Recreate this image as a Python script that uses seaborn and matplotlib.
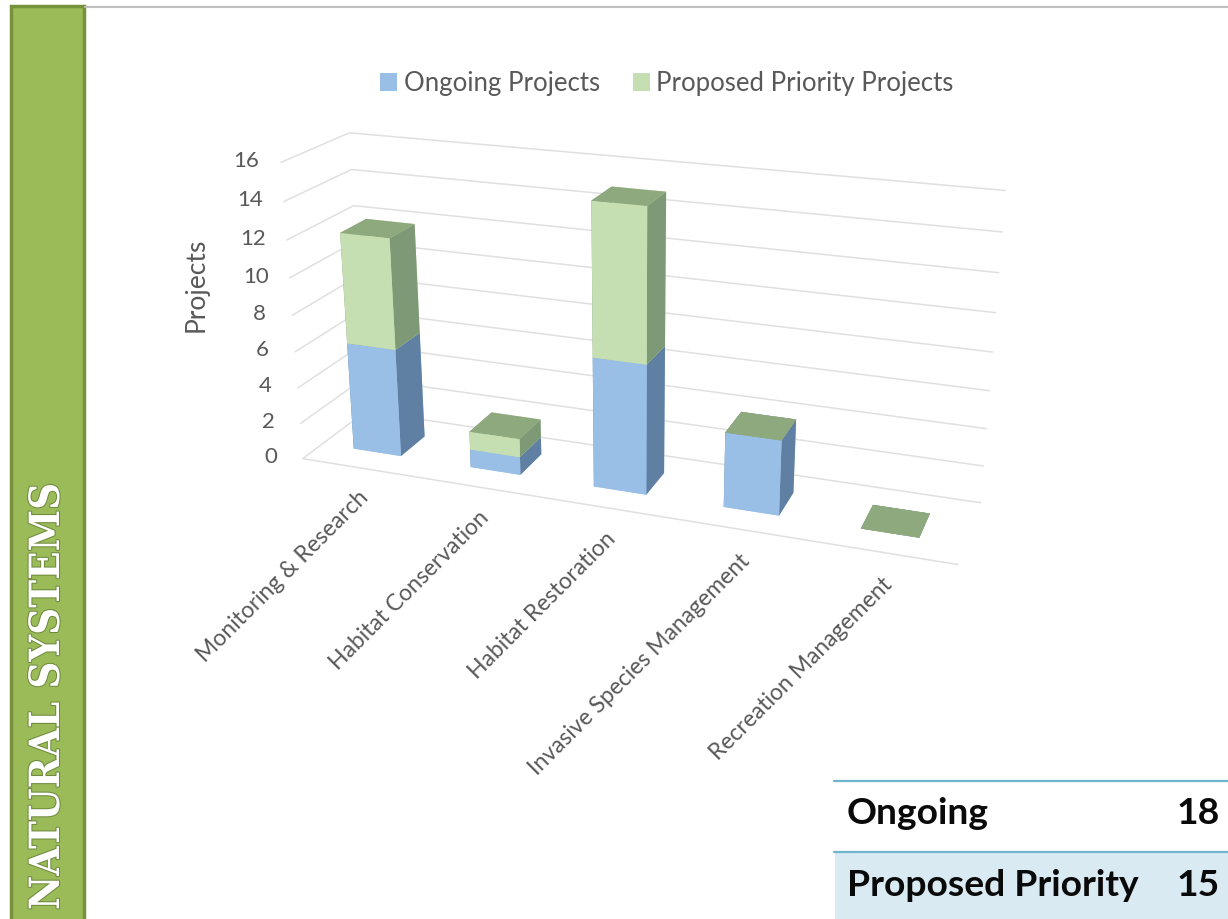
import numpy as np
import pandas as pd
import seaborn as sns
import matplotlib
matplotlib.use("Agg")
import matplotlib.pyplot as plt
from matplotlib.patches import Patch, Rectangle
import matplotlib.patheffects as pe

categories = ["Monitoring & Research", "Habitat Conservation", "Habitat Restoration",
              "Invasive Species Management", "Recreation Management"]
ongoing = [6, 1, 7, 4, 0]
proposed = [6, 1, 8, 0, 0]
z_ticks = [0, 2, 4, 6, 8, 10, 12, 14, 16]
series_names = ["Ongoing Projects", "Proposed Priority Projects"]
summary_labels = ["Ongoing", "Proposed Priority"]
summary_values = [18, 15]

sns.set_theme(style="white")
plt.rcParams["font.family"] = ["Lato", "DejaVu Sans"]
GREY = "#595959"
blue, blue_side, blue_top = "#9ABFE6", "#5F7FA3", "#8FA97F"
green, green_side, green_top = "#C5DFB3", "#7E9975", "#8FA97F"

df = pd.DataFrame({"category": categories, "ongoing": ongoing, "proposed": proposed})

fig = plt.figure(figsize=(12.28, 9.19), dpi=100, facecolor="white")

# page furniture in pixel coordinates
bg = fig.add_axes([0, 0, 1, 1], zorder=0)
bg.set_xlim(0, 1228)
bg.set_ylim(919, 0)
bg.axis("off")
bg.add_patch(Rectangle((11, 6), 73, 920, fc="#9BBB59", ec="#76923C", lw=2.5))
bg.plot([85, 1228], [7, 7], color="#BFBFBF", lw=1.5)
bg.text(47, 910, "NATURAL SYSTEMS", rotation=90, ha="center", va="bottom", color="white",
        family="DejaVu Serif", stretch="condensed", weight="bold", size=30,
        path_effects=[pe.withStroke(linewidth=1.5, foreground="#6E8B3D")])
bg.add_patch(Rectangle((835, 852), 393, 67, fc="#DAEAF2", ec="none"))
bg.plot([834, 1228], [780.5, 780.5], color="#6DB6CE", lw=1.6)
bg.plot([834, 1228], [852, 852], color="#6DB6CE", lw=1.6)
for lab, val, yc in zip(summary_labels, summary_values, [813, 885]):
    bg.text(847, yc, lab, ha="left", va="center", color="#0A0A0A", weight="bold", size=26.8)
    bg.text(1220, yc, str(val), ha="right", va="center", color="#0A0A0A", weight="bold", size=26.8)
bg.text(196, 285, "Projects", rotation=90, ha="center", va="center", color=GREY, size=19)

# 3D chart
ax_w, cx, cy = 800, 621, 344
ax = fig.add_axes([(cx - ax_w / 2) / 1228, (919 - cy - ax_w / 2) / 919, ax_w / 1228, ax_w / 919],
                  projection="3d", zorder=1)
ax.patch.set_alpha(0)
ax.set_proj_type("persp", focal_length=0.38)
ax.view_init(elev=20, azim=-70)
ax.set_box_aspect((1, 0.2, 0.465), zoom=0.945)
ax.set_xlim(0, 5)
ax.set_ylim(0, 1)
ax.set_zlim(0, 16)
ax.computed_zorder = False

bar_c, bar_w, bar_d = 0.48, 0.41, 0.4
for i, row in df.iterrows():
    x0 = i + bar_c - bar_w / 2
    y0 = 0.5 - bar_d / 2
    # face order: bottom, top, front, back, left, right
    ax.bar3d(x0, y0, 0, bar_w, bar_d, row.ongoing,
             color=[blue, blue_top, blue, blue, blue_side, blue_side],
             shade=False, zorder=10 + 2 * i, linewidth=0)
    # a zero-height segment collapses to its cap, so every face takes the cap colour
    seg_colors = ([green, green_top, green, green, green_side, green_side]
                  if row.proposed > 0 else [green_top] * 6)
    ax.bar3d(x0, y0, row.ongoing, bar_w, bar_d, row.proposed, color=seg_colors,
             shade=False, zorder=11 + 2 * i, linewidth=0)

ax.set_xticks(np.arange(len(categories)) + 0.5)
ax.set_xticklabels(categories, rotation=45, ha="right", va="top", rotation_mode="anchor",
                   color=GREY, fontsize=16.5)
ax.set_yticks([0, 1])
ax.set_yticklabels([])
ax.set_zticks(z_ticks)
ax.set_zticklabels([str(v) for v in z_ticks], color=GREY, fontsize=16, va="center")
ax.zaxis.set_ticks_position("lower")
ax.tick_params(axis="x", pad=9)
ax.tick_params(axis="z", pad=7)

for axis in (ax.xaxis, ax.yaxis, ax.zaxis):
    axis.set_pane_color((1, 1, 1, 0))
    axis.pane.set_edgecolor((1, 1, 1, 0))
    axis._axinfo["tick"]["inward_factor"] = 0
    axis._axinfo["tick"]["outward_factor"] = 0
ax.xaxis._axinfo["grid"].update(color=(1, 1, 1, 0))
ax.yaxis._axinfo["grid"].update(color=(1, 1, 1, 0))
ax.zaxis._axinfo["grid"].update(color="#E0E0E0", linewidth=1.1)
ax.xaxis.line.set_color("#E0E0E0")
ax.xaxis.line.set_linewidth(1.1)
ax.yaxis.line.set_color((1, 1, 1, 0))
ax.zaxis.line.set_color((1, 1, 1, 0))

handles = [Patch(fc=blue, ec="none"), Patch(fc=green, ec="none")]
fig.legend(handles, series_names, ncols=2, frameon=False, loc="center", fontsize=18.5,
           bbox_to_anchor=(667 / 1228, 1 - 83 / 919), labelcolor=GREY, handlelength=0.66,
           handleheight=0.7, handletextpad=0.25, columnspacing=1.3)

fig.savefig("out.png", dpi=100)
